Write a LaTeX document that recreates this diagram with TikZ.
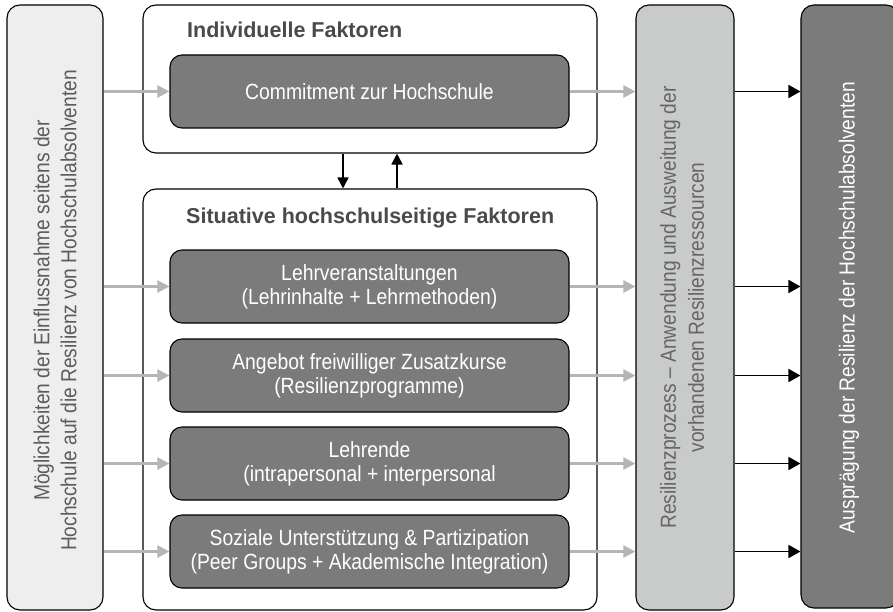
\documentclass[tikz,border=0pt]{standalone}
\usepackage{fontspec}
\setmainfont{Liberation Sans}
\newfontfamily\condfont[FakeStretch=0.88]{Liberation Sans}
\usetikzlibrary{arrows.meta}
\definecolor{lightfill}{HTML}{EDEEED}
\definecolor{midfill}{HTML}{C9CACA}
\definecolor{darkfill}{HTML}{7A7B7A}
\definecolor{arrgray}{HTML}{B3B6B6}
\definecolor{titlecol}{HTML}{4A4A4A}
\definecolor{lefttext}{HTML}{5C5C5C}
\definecolor{restext}{HTML}{666666}
\begin{document}
\begin{tikzpicture}[x=1pt,y=-1pt,
  box/.style={draw=black, line width=1.1pt, rounded corners=13pt, inner sep=0pt, align=center},
  colbox/.style={box, minimum width=#1, minimum height=605pt},
  frame/.style={box, fill=white},
  inbox/.style={box, fill=darkfill, text=white, minimum width=399pt, minimum height=73pt, rounded corners=12pt,
    font=\condfont\fontsize{22}{24}\selectfont},
  ttl/.style={anchor=base west, text=titlecol, font=\fontsize{21.5}{26}\selectfont\bfseries, inner sep=0pt},
  garrow/.style={draw=arrgray, line width=2.2pt, -{Triangle[length=12pt,width=12pt]}},
  barrow/.style={draw=black, line width=1.7pt, -{Triangle[length=12pt,width=13pt]}},
  varrow/.style={draw=black, line width=1.7pt, -{Triangle[length=11pt,width=11pt]}}
]
\useasboundingbox (0,0) rectangle (893,612);
% outer columns
\node[colbox=96pt, fill=lightfill] (left) at (55,307.5) {};
\node[rotate=90, text=lefttext, align=center, font=\condfont\fontsize{21.8}{27}\selectfont] (lefttxt) at (55,310.5)
  {Möglichkeiten der Einflussnahme seitens der\\Hochschule auf die Resilienz von Hochschulabsolventen};
\node[colbox=98pt, fill=midfill] (res) at (685,307.5) {};
\node[rotate=90, text=restext, align=center, font=\condfont\fontsize{21.8}{28}\selectfont] (restxt) at (682,307.5)
  {Resilienzprozess – Anwendung und Ausweitung der\\vorhandenen Resilienzressourcen};
\node[colbox=98pt, fill=darkfill, minimum height=603pt] (aus) at (850,306.5) {};
\node[rotate=90, text=white, font=\condfont\fontsize{21.8}{24}\selectfont] (austxt) at (849,307.5)
  {Ausprägung der Resilienz der Hochschulabsolventen};
% frames
\node[frame, minimum width=454pt, minimum height=148pt] (ind) at (370,79) {};
\node[ttl] (indt) at (187,38) {Individuelle Faktoren};
\node[inbox] (c0) at (369.5,91.5) {Commitment zur Hochschule};
\node[frame, minimum width=454pt, minimum height=421pt] (sit) at (370,399.5) {};
\node[ttl] (sitt) at (186,223) {Situative hochschulseitige Faktoren};
\node[inbox] (c1) at (369.5,286.5) {Lehrveranstaltungen\\(Lehrinhalte + Lehrmethoden)};
\node[inbox] (c2) at (369.5,375.5) {Angebot freiwilliger Zusatzkurse\\(Resilienzprogramme)};
\node[inbox] (c3) at (369.5,463.5) {Lehrende\\(intrapersonal + interpersonal};
\node[inbox] (c4) at (369.5,551.5) {Soziale Unterstützung \& Partizipation\\(Peer Groups + Akademische Integration)};
% arrows
\foreach \c in {c0,c1,c2,c3,c4}{
  \draw[garrow] (left.east |- \c.west) -- (\c.west);
  \draw[garrow] (\c.east) -- (res.west |- \c.east);
  \draw[barrow] (res.east |- \c.east) -- (aus.west |- \c.east);
}
\coordinate (dn) at (343,170);
\coordinate (up) at (397,170);
\draw[varrow] (ind.south -| dn) -- (sit.north -| dn);
\draw[varrow] (sit.north -| up) -- (ind.south -| up);
\end{tikzpicture}
\end{document}
